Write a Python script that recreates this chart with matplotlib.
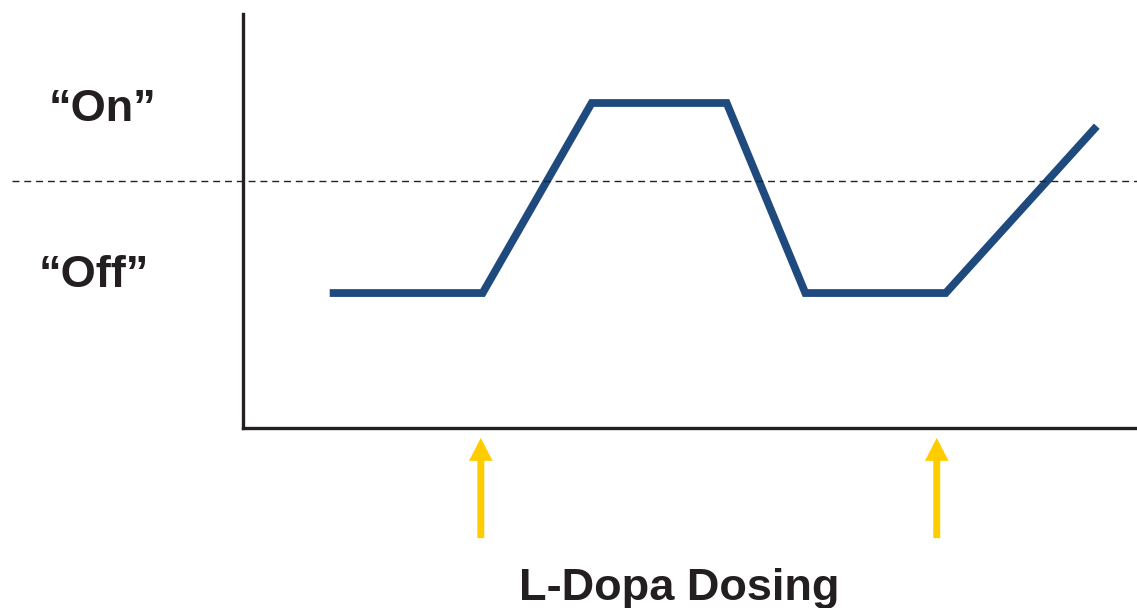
import matplotlib.pyplot as plt

# motor response over time with two doses
time = [0.97, 2.68, 3.90, 5.41, 6.29, 7.86, 9.55]
response = [3.26, 3.26, 7.85, 7.85, 3.26, 3.26, 7.29]
threshold = 5.97
dose_times = [2.66, 7.76]
state_labels = ['\u201cOn\u201d', '\u201cOff\u201d']
state_levels = [7.70, 3.68]
state_x = [-0.157, -0.167]

plt.rcParams['font.family'] = ['Liberation Sans', 'DejaVu Sans']

fig = plt.figure(figsize=(11.37, 6.08), dpi=100)
ax = fig.add_axes([243 / 1137, 180 / 608, 894 / 1137, 414 / 608])
ax.set_xlim(0, 10)
ax.set_ylim(0, 10)

ax.plot(time, response, color='#1f4a7e', lw=5.6, solid_joinstyle='miter',
        solid_capstyle='butt')
ax.axhline(threshold, xmin=-0.258, xmax=1, color='#222222', lw=1.0,
           ls=(0, (5, 3.5)), clip_on=False)

for spine in ['top', 'right']:
    ax.spines[spine].set_visible(False)
for spine in ['left', 'bottom']:
    ax.spines[spine].set_linewidth(2.4)
    ax.spines[spine].set_color('#231f20')
ax.set_xticks([])
ax.set_yticks([])

# dose arrows below the time axis
for t in dose_times:
    ax.annotate('', xy=(t, -0.024), xytext=(t, -0.266),
                xycoords=ax.get_xaxis_transform(),
                textcoords=ax.get_xaxis_transform(),
                arrowprops=dict(arrowstyle='simple,head_width=1.7,head_length=1.65,tail_width=0.5',
                                mutation_scale=10, color='#ffcc00', lw=0,
                                shrinkA=0, shrinkB=0),
                annotation_clip=False)

for label, level, x in zip(state_labels, state_levels, state_x):
    ax.text(x, level, label, transform=ax.get_yaxis_transform(),
            ha='center', va='center', fontsize=32.5, fontweight='bold',
            color='#231f20')

ax.text(0.488, -0.388, 'L-Dopa Dosing', transform=ax.transAxes,
        ha='center', va='center', fontsize=32.5, fontweight='bold',
        color='#231f20')

fig.savefig('out.png', dpi=100)
